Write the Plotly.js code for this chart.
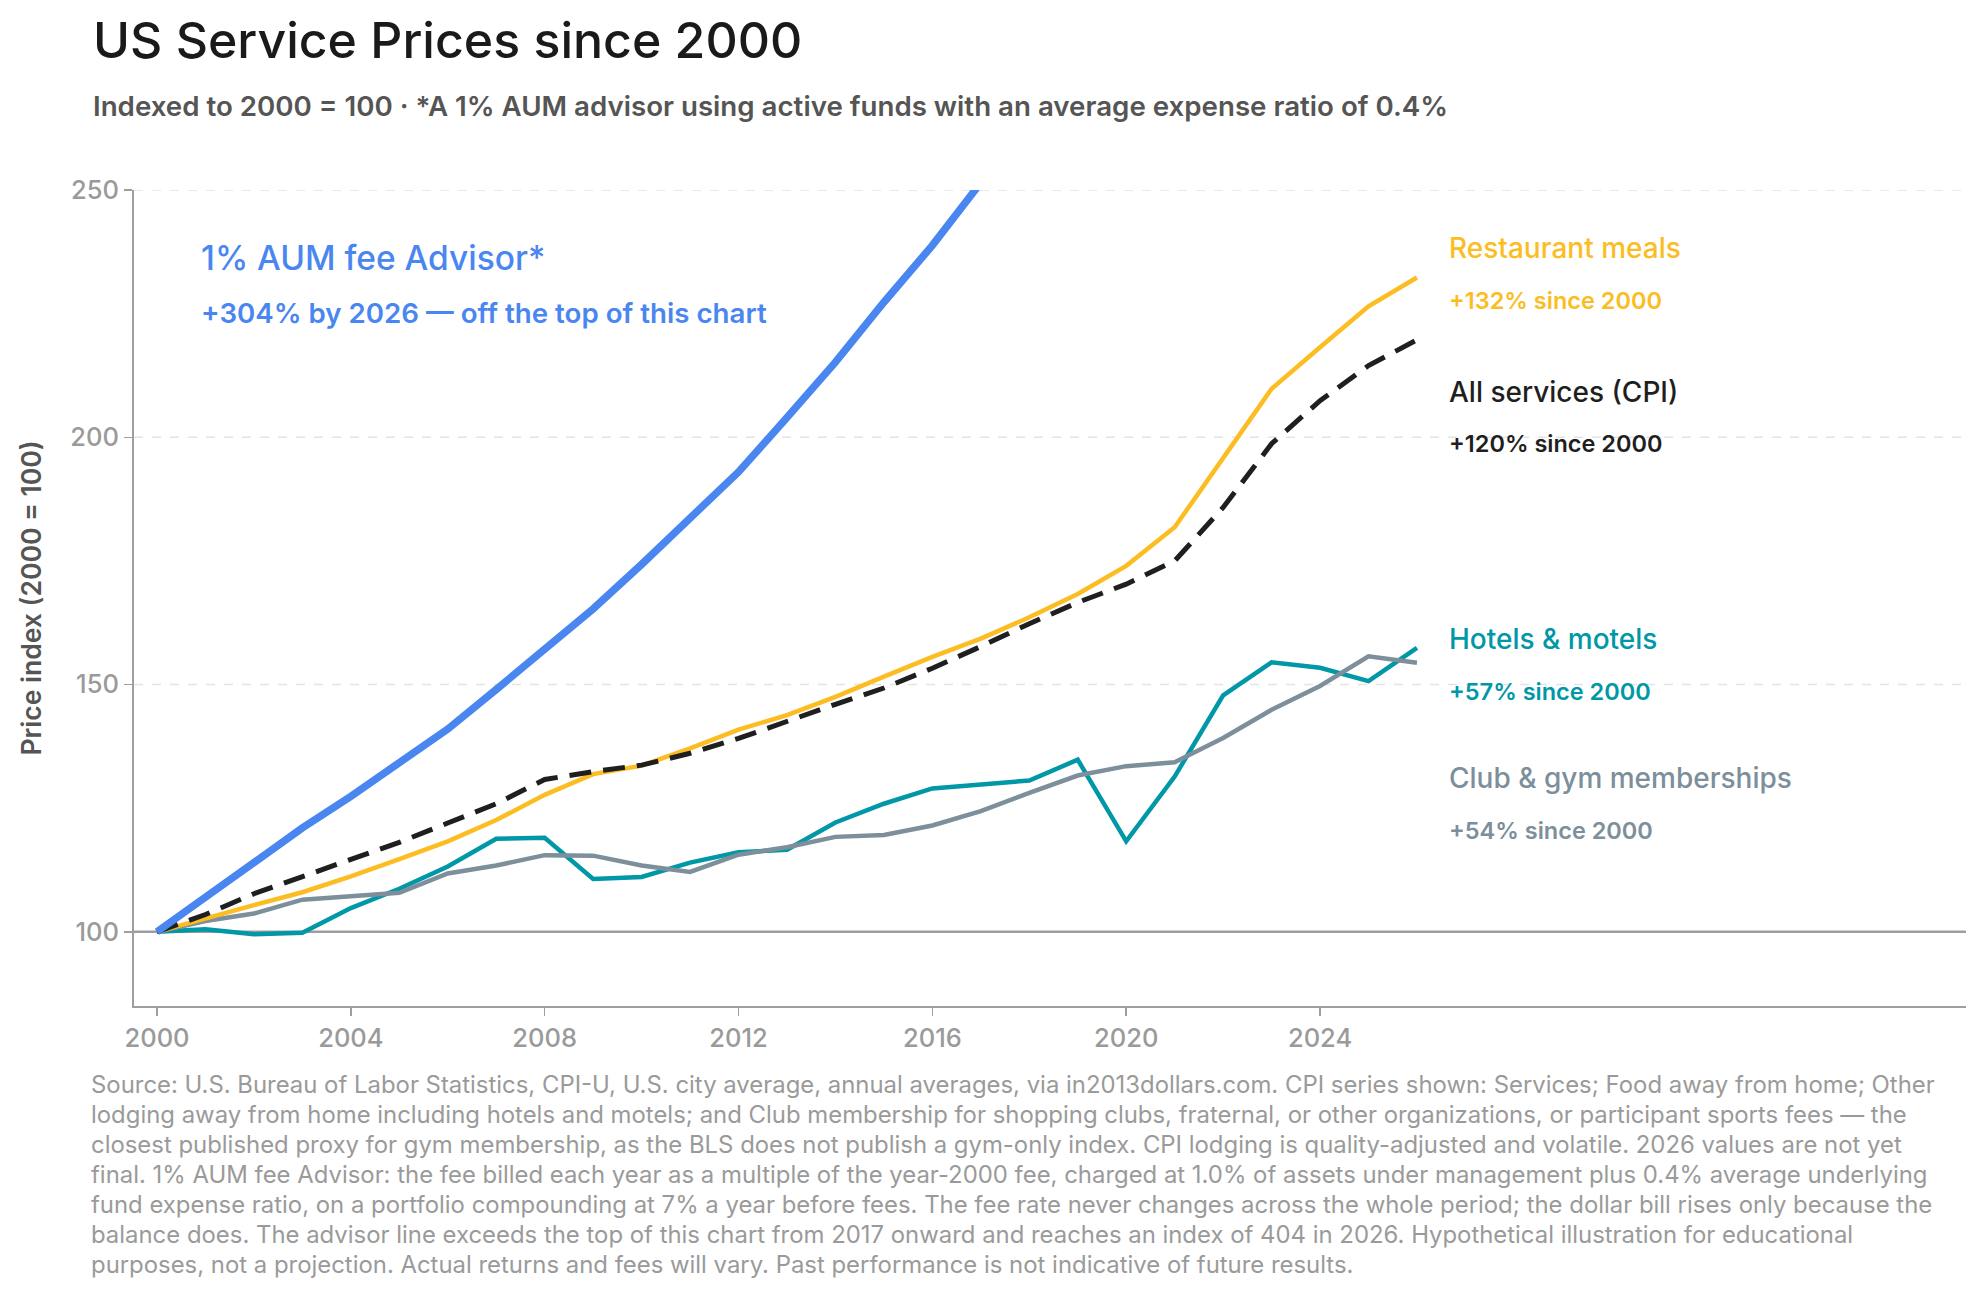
<!DOCTYPE html>
<html>
<head>
<meta charset="utf-8">
<script src="https://cdn.plot.ly/plotly-3.0.1.min.js"></script>
<style>
  html, body { margin: 0; padding: 0; background: #ffffff; }
  #chart { width: 1976px; height: 1296px; }
</style>
</head>
<body>
<div id="chart"></div>
<script>
//  ======== DATA ========
var years = [2000, 2001, 2002, 2003, 2004, 2005, 2006, 2007, 2008, 2009, 2010, 2011, 2012, 2013,
             2014, 2015, 2016, 2017, 2018, 2019, 2020, 2021, 2022, 2023, 2024, 2025, 2026];

var advisor = [100, 107, 114, 121, 127.4, 134, 141, 149, 157, 165.3, 174.3, 183.8, 193, 204,
               215.2, 227.3, 238.8, 251.5, 266, 280, 296, 312, 329, 346, 364, 384, 404];
var restaurant = [100, 102.8, 105.4, 108, 111.2, 114.7, 118.3, 122.6, 127.7, 131.9, 133.6, 137.1, 140.9, 143.8,
                  147.5, 151.6, 155.6, 159.3, 163.6, 168.3, 174, 181.8, 195.9, 209.8, 218.2, 226.5, 232.3];
var services = [100, 103.5, 107.7, 111.2, 114.6, 118.1, 122, 125.9, 130.8, 132.4, 133.7, 136.1, 139.1, 142.6,
                146, 149.3, 153.3, 157.7, 162.3, 166.6, 170.3, 175, 185.8, 198.7, 207.4, 214.5, 219.7];
var hotels = [100, 100.5, 99.5, 99.8, 104.8, 108.7, 113.2, 118.8, 119, 110.7, 111.1, 114, 116.1, 116.6,
              122.1, 125.9, 129, 129.7, 130.6, 134.8, 118.3, 131.4, 147.8, 154.5, 153.4, 150.7, 157.4];
var gym = [100, 102.2, 103.7, 106.5, 107.2, 107.9, 111.8, 113.4, 115.5, 115.4, 113.4, 112.1, 115.6, 117.1,
           119.2, 119.6, 121.5, 124.4, 128.1, 131.6, 133.5, 134.3, 139.2, 144.9, 149.7, 155.7, 154.4];

var xTicks = [2000, 2004, 2008, 2012, 2016, 2020, 2024];
var yTicks = [100, 150, 200, 250];
var gridVals = [150, 200, 250];
var baseline = 100;

var seriesNames = ['Restaurant meals', 'All services (CPI)', 'Hotels & motels', 'Club & gym memberships'];
var seriesNotes = ['+132% since 2000', '+120% since 2000', '+57% since 2000', '+54% since 2000'];

var footnote = [
  'Source: U.S. Bureau of Labor Statistics, CPI-U, U.S. city average, annual averages, via in2013dollars.com. CPI series shown: Services; Food away from home; Other',
  'lodging away from home including hotels and motels; and Club membership for shopping clubs, fraternal, or other organizations, or participant sports fees \u2014 the',
  'closest published proxy for gym membership, as the BLS does not publish a gym-only index. CPI lodging is quality-adjusted and volatile. 2026 values are not yet',
  'final. 1% AUM fee Advisor: the fee billed each year as a multiple of the year-2000 fee, charged at 1.0% of assets under management plus 0.4% average underlying',
  'fund expense ratio, on a portfolio compounding at 7% a year before fees. The fee rate never changes across the whole period; the dollar bill rises only because the',
  'balance does. The advisor line exceeds the top of this chart from 2017 onward and reaches an index of 404 in 2026. Hypothetical illustration for educational',
  'purposes, not a projection. Actual returns and fees will vary. Past performance is not indicative of future results.'
];

//  ======== STYLE ========
var FONT = 'Inter, "Noto Sans", sans-serif';
var BLUE = '#4a86f0';
var YELLOW = '#fbbd22';
var BLACK = '#1f1f1f';
var TEAL = '#0097a7';
var SLATE = '#7c8f9b';
var AXIS = '#9e9e9e';

// plot box in pixels (used to place the free text)
var M = { l: 134, r: 10, t: 190, b: 290 };
var PLOT_H = 1296 - M.t - M.b;
var PLOT_W = 1976 - M.l - M.r;
function paperY(py) { return (1296 - M.b - py) / PLOT_H; }
function paperX(px) { return (px - M.l) / PLOT_W; }

// label y positions (data units) next to the line ends
var labelY = [238.2, 209.2, 159.2, 131.1];
var noteY = [227.6, 198.7, 148.5, 120.5];
var labelColors = [YELLOW, BLACK, TEAL, SLATE];

function line(y, color, width, dash) {
  return {
    x: years, y: y, type: 'scatter', mode: 'lines',
    line: { color: color, width: width, dash: dash || 'solid' },
    hoverinfo: 'skip', showlegend: false
  };
}

var data = [
  line(hotels, TEAL, 4.5),
  line(gym, SLATE, 4.5),
  line(restaurant, YELLOW, 4.5),
  line(services, BLACK, 5, '22px,12px'),
  line(advisor, BLUE, 7.5)
];

var annotations = [];
for (var i = 0; i < seriesNames.length; i++) {
  annotations.push({
    x: 2026.63, y: labelY[i], xref: 'x', yref: 'y', xanchor: 'left', yanchor: 'middle',
    text: seriesNames[i], showarrow: false,
    font: { family: FONT, size: 28, color: labelColors[i], weight: 500 }
  });
  annotations.push({
    x: 2026.63, y: noteY[i], xref: 'x', yref: 'y', xanchor: 'left', yanchor: 'middle',
    text: seriesNotes[i], showarrow: false,
    font: { family: FONT, size: 23.5, color: labelColors[i], weight: 600 }
  });
}

annotations.push({
  x: 2000.87, y: 236.3, xref: 'x', yref: 'y', xanchor: 'left', yanchor: 'middle',
  text: '1% AUM fee Advisor*', showarrow: false,
  font: { family: FONT, size: 33.5, color: BLUE, weight: 500 }
});
annotations.push({
  x: 2000.87, y: 225.1, xref: 'x', yref: 'y', xanchor: 'left', yanchor: 'middle',
  text: '+304% by 2026 \u2014 off the top of this chart', showarrow: false,
  font: { family: FONT, size: 27.7, color: BLUE, weight: 600 }
});

// subtitle
annotations.push({
  x: paperX(91), y: paperY(106), xref: 'paper', yref: 'paper', xanchor: 'left', yanchor: 'middle',
  text: 'Indexed to 2000 = 100 \u00b7 *A 1% AUM advisor using active funds with an average expense ratio of 0.4%',
  showarrow: false,
  font: { family: FONT, size: 27.7, color: '#555555', weight: 600 }
});

// footnote, one annotation per line to get the wider line spacing
for (var k = 0; k < footnote.length; k++) {
  annotations.push({
    x: paperX(89), y: paperY(1084.5 + k * 30), xref: 'paper', yref: 'paper',
    xanchor: 'left', yanchor: 'middle', align: 'left',
    text: footnote[k], showarrow: false,
    font: { family: FONT, size: 23.9, color: '#9a9a9a' }
  });
}

// dashed grid lines and the solid 100 baseline, all under the series
var shapes = gridVals.map(function (v) {
  return {
    type: 'line', xref: 'paper', yref: 'y', x0: 0, x1: 1, y0: v, y1: v,
    line: { color: '#e4e4e4', width: 1.5, dash: 'dash' }, layer: 'below'
  };
});
shapes.push({
  type: 'line', xref: 'paper', yref: 'y', x0: 0, x1: 1, y0: baseline, y1: baseline,
  line: { color: AXIS, width: 2.5 }, layer: 'below'
});

var layout = {
  width: 1976,
  height: 1296,
  margin: M,
  paper_bgcolor: '#ffffff',
  plot_bgcolor: '#ffffff',
  font: { family: FONT, color: '#555555' },
  title: {
    text: 'US Service Prices since 2000',
    x: 93 / 1976, xref: 'container', xanchor: 'left',
    y: 1 - 40 / 1296, yref: 'container', yanchor: 'middle',
    font: { family: FONT, size: 50, color: '#1a1a1a', weight: 500 }
  },
  xaxis: {
    range: [1999.525, 2037.33],
    tickvals: xTicks,
    showgrid: false, zeroline: false,
    showline: true, linecolor: AXIS, linewidth: 2,
    ticks: 'outside', ticklen: 8, tickwidth: 1.5, tickcolor: AXIS,
    tickfont: { family: FONT, size: 25.5, color: '#9a9a9a', weight: 500 }
  },
  yaxis: {
    range: [85, 250],
    tickvals: yTicks,
    showgrid: false,
    zeroline: false,
    showline: true, linecolor: AXIS, linewidth: 2,
    ticks: 'outside', ticklen: 8, tickwidth: 1.5, tickcolor: AXIS,
    tickfont: { family: FONT, size: 25.5, color: '#9a9a9a', weight: 500 },
    title: {
      text: 'Price index (2000 = 100)', standoff: 21,
      font: { family: FONT, size: 26.5, color: '#555555', weight: 600 }
    }
  },
  shapes: shapes,
  annotations: annotations
};

Plotly.newPlot('chart', data, layout, { displayModeBar: false, staticPlot: true });
</script>
</body>
</html>
